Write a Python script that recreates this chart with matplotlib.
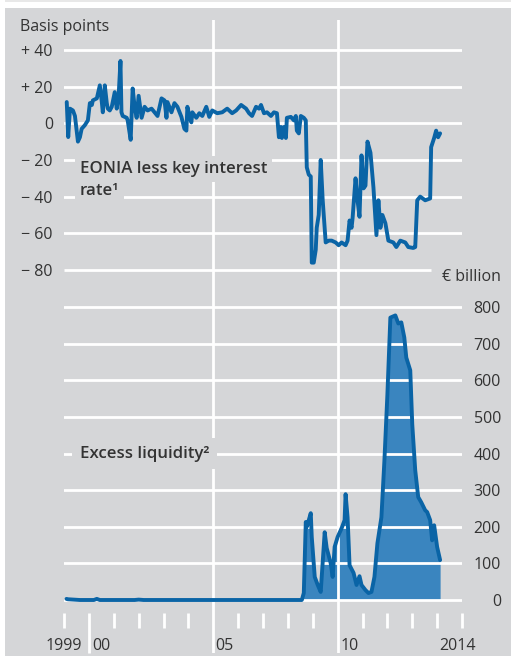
import matplotlib
matplotlib.use("Agg")
import matplotlib.pyplot as plt
from matplotlib.patches import Rectangle

# ---------------- data ----------------
eonia_years = [1999.11, 1999.17, 1999.24, 1999.36, 1999.44, 1999.56, 1999.64, 1999.71, 1999.84, 1999.96,
               2000.04, 2000.12, 2000.16, 2000.32, 2000.36, 2000.44, 2000.52, 2000.56, 2000.64, 2000.72,
               2000.76, 2000.84, 2000.92, 2001.04, 2001.12, 2001.20, 2001.27, 2001.31, 2001.36, 2001.52,
               2001.56, 2001.68, 2001.76, 2001.84, 2001.92, 2002.00, 2002.12, 2002.24, 2002.36, 2002.52,
               2002.64, 2002.76, 2002.92, 2003.04, 2003.12, 2003.16, 2003.32, 2003.44, 2003.56, 2003.72,
               2003.84, 2003.92, 2003.96, 2004.04, 2004.12, 2004.16, 2004.32, 2004.44, 2004.56, 2004.72,
               2004.84, 2004.96, 2005.16, 2005.36, 2005.56, 2005.76, 2005.92, 2006.12, 2006.32, 2006.44,
               2006.56, 2006.72, 2006.84, 2006.92, 2007.04, 2007.16, 2007.32, 2007.44, 2007.56, 2007.64,
               2007.72, 2007.76, 2007.84, 2007.92, 2007.96, 2008.12, 2008.24, 2008.32, 2008.36, 2008.44,
               2008.52, 2008.64, 2008.72, 2008.76, 2008.84, 2008.92, 2008.96, 2009.04, 2009.12, 2009.16,
               2009.24, 2009.32, 2009.40, 2009.52, 2009.64, 2009.76, 2009.92, 2010.04, 2010.16, 2010.32,
               2010.40, 2010.48, 2010.56, 2010.60, 2010.72, 2010.80, 2010.88, 2010.96, 2011.04, 2011.12,
               2011.20, 2011.32, 2011.44, 2011.56, 2011.64, 2011.72, 2011.80, 2011.92, 2012.04, 2012.24,
               2012.36, 2012.52, 2012.72, 2012.84, 2013.04, 2013.12, 2013.20, 2013.32, 2013.52, 2013.72,
               2013.76, 2013.88, 2013.96, 2014.04, 2014.12]
eonia_spread = [11.6, -7.5, 8, 7, 4, -10, -7.6, -3, -1, 1.6,
                11, 10, 12.5, 13.6, 16, 20.7, 11.6, 6, 20.7, 11,
                8, 7, 9, 17, 8, 16, 34, 6, 4, 3,
                1.6, -9, 19, 9, 3, 15, 3, 9, 7, 8,
                6, 4, 13.6, 12.5, 3, 11.6, 6, 11, 9, 3.5,
                -3, -4, 9, 4, 0.5, 6, 3, 5.5, 4, 9,
                3.5, 7, 5.5, 6, 8, 5.5, 7, 10, 8, 5.5,
                4, 9, 8, 10, 5.5, 6, 4, 6, 5.5, -7.6,
                -2, -8, -2, -8, 3, 3.5, 1.6, 4, -4, -5.5,
                4, 3, 1.6, -24, -28, -29, -76, -76, -69, -57,
                -50, -20, -42, -65, -64, -64, -65, -66.5, -65, -66.5,
                -64, -53, -57, -52, -30, -42, -51, -17.5, -35.5, -34,
                -10, -16, -35, -61, -42, -57, -50, -54.5, -64, -65,
                -67.5, -64, -65, -67.5, -68, -67.5, -42, -40, -42, -41,
                -13, -8, -4, -7.6, -5.5]

liq_years = [1999.10, 1999.16, 1999.64, 2000.20, 2000.32, 2000.44, 2001.84, 2002.00, 2002.20, 2004.00,
             2006.00, 2008.00, 2008.56, 2008.64, 2008.72, 2008.76, 2008.84, 2008.92, 2008.96, 2009.08,
             2009.20, 2009.32, 2009.48, 2009.56, 2009.72, 2009.80, 2009.88, 2010.00, 2010.16, 2010.28,
             2010.32, 2010.40, 2010.48, 2010.64, 2010.76, 2010.88, 2010.96, 2011.12, 2011.24, 2011.36,
             2011.48, 2011.60, 2011.76, 2011.88, 2012.00, 2012.12, 2012.32, 2012.44, 2012.56, 2012.68,
             2012.76, 2012.92, 2013.00, 2013.12, 2013.24, 2013.36, 2013.52, 2013.60, 2013.72, 2013.80,
             2013.88, 2014.00, 2014.12]
liq_values = [3, 2, 0, 0, 3, 0, 0, 1, 0, 0,
              0, 0, 0, 19, 213, 200, 218, 237, 172, 63,
              41, 22, 185, 142, 101, 63, 145, 172, 196, 218,
              289, 226, 95, 74, 41, 65, 41, 27, 19, 22,
              63, 155, 226, 380, 560, 771, 777, 755, 758, 717,
              662, 627, 480, 354, 281, 267, 245, 240, 218, 163,
              204, 145, 109]

left_ticks = [40, 20, 0, -20, -40, -60, -80]
left_labels = ["+ 40", "+ 20", "0", "\u2212 20", "\u2212 40", "\u2212 60", "\u2212 80"]
right_ticks = [0, 100, 200, 300, 400, 500, 600, 700, 800]
right_labels = ["0", "100", "200", "300", "400", "500", "600", "700", "800"]
year_ticks = list(range(1999, 2016))
year_labels = ["1999", "00", "05", "10", "2014"]
year_label_pos = [1999.0, 2000.15, 2005.1, 2010.1, 2014.1]

# ---------------- style ----------------
W, H = 511, 656
PANEL = "#d5d6d8"
LINE = "#0a64a6"
FILL = "#3a85bf"
TXT = "#333333"
FONT = ["Open Sans", "DejaVu Sans"]
plt.rcParams["font.family"] = FONT
TS = 11.5   # tick / axis-title size
AS = 12.2   # annotation size
LW = 2.8

fig = plt.figure(figsize=(W / 100, H / 100), dpi=100)
fig.patch.set_facecolor("white")
fig.patches.append(Rectangle((5 / W, 0), (W - 5) / W, (H - 8) / H, transform=fig.transFigure,
                             facecolor=PANEL, edgecolor="none", zorder=-5))
fig.patches.append(Rectangle((5 / W, 1 - 2 / H), (W - 5) / W, 2 / H, transform=fig.transFigure,
                             facecolor="#e8e8e8", edgecolor="none", zorder=-5))

ax_top_px, ax_bot_px = 20, 653
ax2 = fig.add_axes([64 / W, 1 - ax_bot_px / H, 398 / W, (ax_bot_px - ax_top_px) / H])
ax1 = ax2.twinx()
ax1.yaxis.tick_left()
ax2.yaxis.tick_right()
ax2.set_zorder(1)
ax1.set_zorder(2)
for a in (ax1, ax2):
    a.patch.set_visible(False)
    for s in a.spines.values():
        s.set_visible(False)
    a.set_xlim(1999, 2015)
    a.set_xticks([])

# pixel -> data scales
bp_per_px = 1 / 1.8333
zero_top = 123.3
ax1.set_ylim((zero_top - ax_bot_px) * bp_per_px, (zero_top - ax_top_px) * bp_per_px)
eu_per_px = 1 / 0.36625
zero_bot = 600
ax2.set_ylim((zero_bot - ax_bot_px) * eu_per_px, (zero_bot - ax_top_px) * eu_per_px)

GW = 2.0
# bottom panel (back axes)
ax2.fill_between(liq_years, 0, liq_values, color=FILL, linewidth=0, zorder=1)
for v in right_ticks:
    ax2.axhline(v, color="white", lw=GW, zorder=2)
ax2.plot(liq_years, liq_values, color=LINE, lw=LW, zorder=4, solid_joinstyle="round", solid_capstyle="round")
for yr in (2005, 2010):
    ax2.axvline(yr, color="white", lw=GW, zorder=3)
xt = ax2.get_xaxis_transform()
f = lambda py: (ax_bot_px - py) / (ax_bot_px - ax_top_px)
for yr in year_ticks:
    if yr in (2005, 2010):
        continue
    top = f(613)
    bot = 0 if yr == 2000 else f(628)
    ax2.plot([yr, yr], [bot, top], transform=xt, color="white", lw=GW, solid_capstyle="butt", clip_on=False)
ax2.set_yticks(right_ticks)
ax2.set_yticklabels(right_labels)
ax2.tick_params(axis="y", length=0, pad=28, labelsize=TS, labelcolor=TXT)
for t in ax2.get_yticklabels():
    t.set_horizontalalignment("right")

ax2.text(1999.64, 400, "Excess liquidity\u00b2", fontsize=AS, color=TXT, fontweight="semibold",
         ha="left", va="center", zorder=5,
         bbox=dict(facecolor=PANEL, edgecolor="none", boxstyle="square,pad=0.45"))

# top panel (front axes)
for v in left_ticks[:-1]:
    ax1.axhline(v, color="white", lw=GW, zorder=1)
ax1.hlines(-80, 1999, 1999 + (433 - 64) / 25, color="white", lw=GW, zorder=1)
ax1.plot(eonia_years, eonia_spread, color=LINE, lw=LW, zorder=4, solid_joinstyle="round", solid_capstyle="round")
ax1.set_yticks(left_ticks)
ax1.set_yticklabels(left_labels)
ax1.tick_params(axis="y", length=0, pad=8, labelsize=TS, labelcolor=TXT)

ax1.text(1999.64, -25, "EONIA less key interest", fontsize=AS, color=TXT, fontweight="semibold",
         ha="left", va="center", zorder=5,
         bbox=dict(facecolor=PANEL, edgecolor="none", boxstyle="square,pad=0.3"))
ax1.text(1999.64, -37, "rate\u00b9", fontsize=AS, color=TXT, fontweight="semibold",
         ha="left", va="center", zorder=5,
         bbox=dict(facecolor=PANEL, edgecolor="none", boxstyle="square,pad=0.3"))

# axis titles
fig.text(20 / W, 1 - 27 / H, "Basis points", fontsize=TS, color=TXT, ha="left", va="center")
fig.text(501 / W, 1 - 277 / H, "\u20ac billion", fontsize=TS, color=TXT, ha="right", va="center")

# year labels
for pos, lab in zip(year_label_pos, year_labels):
    ha = "center" if lab == "1999" else "left"
    ax2.text(pos, f(646), lab, transform=xt, fontsize=TS, color=TXT, ha=ha, va="center", clip_on=False)

fig.savefig("out.png", dpi=100, facecolor="white")
